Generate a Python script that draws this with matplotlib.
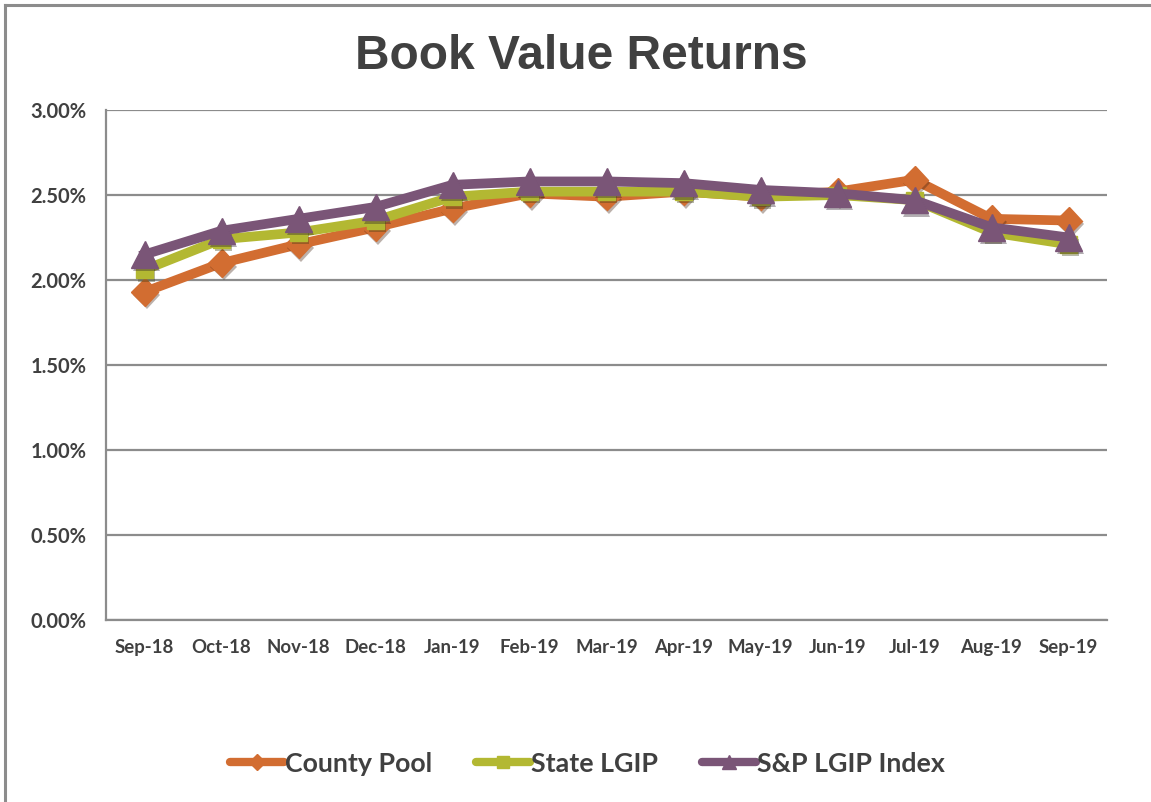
import numpy as np
import matplotlib.pyplot as plt
import matplotlib.patheffects as pe
from matplotlib.lines import Line2D
from matplotlib.ticker import FuncFormatter

months = ['Sep-18', 'Oct-18', 'Nov-18', 'Dec-18', 'Jan-19', 'Feb-19', 'Mar-19',
          'Apr-19', 'May-19', 'Jun-19', 'Jul-19', 'Aug-19', 'Sep-19']
county_pool = [1.93, 2.10, 2.21, 2.31, 2.42, 2.51, 2.49, 2.52, 2.49, 2.52, 2.59, 2.36, 2.35]
state_lgip = [2.06, 2.24, 2.28, 2.35, 2.49, 2.52, 2.52, 2.52, 2.49, 2.50, 2.47, 2.28, 2.21]
sp_lgip = [2.15, 2.29, 2.36, 2.43, 2.56, 2.58, 2.58, 2.57, 2.53, 2.51, 2.47, 2.31, 2.25]

names = ['County Pool', 'State LGIP', 'S&P LGIP Index']
colors = ['#D26D31', '#B3B832', '#7A5577']
markers = ['D', 's', '^']
msizes = [14, 12, 19]

fig = plt.figure(figsize=(11.51, 8.02), dpi=100)
ax = fig.add_axes([0.0921, 0.2269, 0.8697, 0.6359])

x = np.arange(len(months))
shadow = [pe.SimplePatchShadow(offset=(1.5, -2.5), alpha=0.35), pe.Normal()]
for i, ys in enumerate([county_pool, state_lgip, sp_lgip]):
    ax.plot(x, ys, color=colors[i], lw=7, solid_joinstyle='miter', zorder=3 + i)
    ax.plot(x, ys, ls='none', marker=markers[i], ms=msizes[i], color=colors[i],
            mec=colors[i], zorder=3 + i, path_effects=shadow)

ax.set_xlim(-0.5, len(months) - 0.5)
ax.set_ylim(0, 3.0)
ax.set_yticks(np.arange(0, 3.01, 0.5))
ax.yaxis.set_major_formatter(FuncFormatter(lambda v, p: '%.2f%%' % v))
ax.set_xticks(x)
ax.set_xticklabels(months)
ax.grid(axis='y', color='#8c8c8c', lw=1.6)
ax.set_axisbelow(True)
for s in ['top', 'right']:
    ax.spines[s].set_visible(False)
for s in ['left', 'bottom']:
    ax.spines[s].set_color('#8c8c8c')
    ax.spines[s].set_linewidth(1.6)
ax.tick_params(length=0, colors='#404040')
ax.tick_params(axis='x', pad=14)
ax.tick_params(axis='y', pad=14)
for lab in ax.get_xticklabels():
    lab.set_fontfamily('Lato')
    lab.set_fontweight('bold')
    lab.set_fontsize(13.4)
for lab in ax.get_yticklabels():
    lab.set_fontfamily('Lato')
    lab.set_fontweight('bold')
    lab.set_fontsize(14.5)

fig.text(0.505, 0.930, 'Book Value Returns', ha='center', va='center',
         fontsize=34.5, fontweight='bold', family='Liberation Sans', color='#404040')

handles = [Line2D([], [], color=colors[i], lw=6, marker=markers[i],
                  ms=[8, 8, 10][i], solid_capstyle='round') for i in range(3)]
leg = fig.legend(handles, names, loc='center', bbox_to_anchor=(0.5105, 0.048), ncol=3,
                 frameon=False, handlelength=2.0, handletextpad=0.05, columnspacing=1.65,
                 prop={'family': 'Lato', 'weight': 'bold', 'size': 19.3})
for t in leg.get_texts():
    t.set_color('#404040')

# outer chart frame
fig.add_artist(Line2D([0.0045, 0.0045], [0, 0.994], color='#8c8c8c', lw=2.2,
                      transform=fig.transFigure))
fig.add_artist(Line2D([0.0045, 1], [0.994, 0.994], color='#8c8c8c', lw=2.2,
                      transform=fig.transFigure))

fig.savefig('out.png', dpi=100)
